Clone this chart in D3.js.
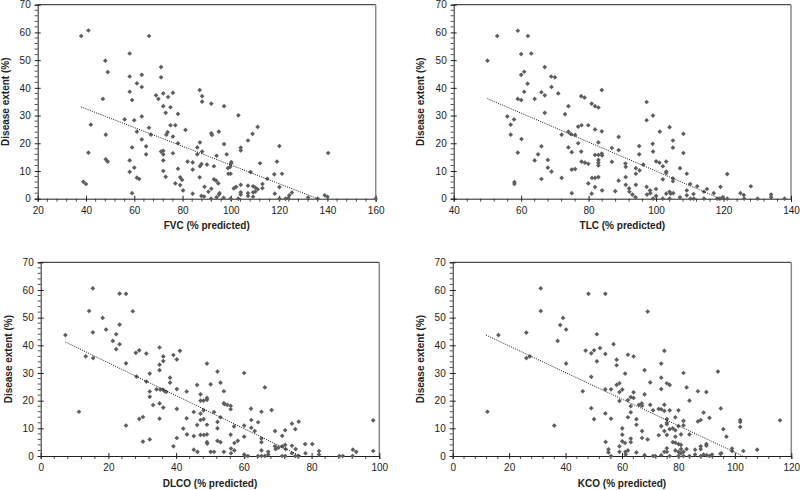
<!DOCTYPE html>
<html>
<head>
<meta charset="utf-8">
<script src="https://cdn.jsdelivr.net/npm/d3@7"></script>
<style>
  body { margin: 0; background: #fff; }
  svg { display: block; font-family: "Liberation Sans", Arial, sans-serif; }
</style>
</head>
<body>
<script>
const yTicks = [0, 10, 20, 30, 40, 50, 60, 70];

const fvcTicks = [20, 40, 60, 80, 100, 120, 140, 160];
const fvcPoints = [
  [38, 58.7], [41, 60.7], [38.9, 6.1], [40, 5.3], [41, 16.6], [42, 26.7], [48, 49.8], [49, 45.7],
  [47, 36], [48.2, 23.1], [48.2, 14.2], [49, 13.4], [56, 28.6], [58.1, 52.4], [58.1, 44.1], [58.1, 38.6],
  [59.1, 35.6], [58.1, 13.8], [58.1, 9.7], [59.1, 18.5], [60, 28.3], [60, 11.2], [59.1, 2], [61.1, 41.6],
  [61.1, 24.2], [61.1, 7.6], [62, 7.1], [63.1, 44.7], [63.1, 40.3], [63.1, 29.7], [63.1, 21.4], [64.9, 18.9],
  [64.9, 16], [66.1, 58.7], [66.1, 25.6], [66.9, 23.1], [69, 37.3], [70, 36], [71.1, 47.5], [71.1, 43.8],
  [72, 38], [72, 33.4], [71.1, 17], [72, 17.3], [72, 16], [72, 13.8], [72, 10], [73, 31],
  [73, 7.9], [73.3, 23.1], [73.8, 24], [74, 36.7], [75, 33], [75, 26.5], [76, 38.2], [76, 22.4],
  [76, 16.4], [77, 26.5], [77, 5.5], [78.1, 30.6], [78.1, 20], [78.1, 10.8], [79, 7.7], [79, 4.9],
  [79.8, 6.8], [80.2, 3], [81.2, 24.8], [82.1, 13.4], [84.2, 13.1], [84.2, 10.5], [84.2, 1.8], [86.1, 18.5],
  [86.1, 16], [87.1, 39.2], [87.2, 20.3], [87.2, 11.7], [87.8, 12.5], [87.1, 7.7], [88.1, 37], [88.1, 35],
  [88.1, 17], [87.8, 1], [89.1, 4.3], [88.9, 0.8], [90.1, 12.3], [90.7, 2.5], [91.9, 34.3], [91.9, 23.6],
  [92.2, 23], [91.9, 3.6], [91.8, 0], [93, 11.7], [93, 7], [93.9, 6.5], [94.1, 15.5], [95, 24.2],
  [94.8, 5.5], [95.1, 1.5], [94.1, 0.5], [95.3, 2], [97.2, 19.7], [97.2, 33.4], [97, 0.3], [98.3, 16],
  [98.8, 11], [99, 9], [100.1, 12.7], [100.2, 13.2], [99.7, 11.5], [99.9, 9], [99.9, 0], [101.2, 3.7],
  [102.2, 4.3], [103.1, 30.1], [104.1, 18.4], [104.1, 17.4], [104.1, 5], [104.1, 2.3], [104.1, 1.5], [103.1, 0],
  [107.1, 21], [107.1, 4.7], [107.1, 2], [107.1, 1], [108.2, 9.6], [109, 23.4], [109.2, 4.5], [109.2, 2.3],
  [109.2, 0.7], [110.1, 4], [110.1, 2.5], [111.1, 25.9], [111.1, 3.4], [112.1, 12.8], [113.1, 5.3], [113.1, 3.8],
  [115.1, 7.2], [118, 8.8], [118.2, 1.8], [119.1, 13.4], [120.1, 19], [120.1, 4.2], [120.1, 0], [121.2, 9],
  [122.7, 0], [123.8, 0.2], [124.2, 1.2], [125.3, 2.2], [132, 0.4], [136, 0], [138.9, 1.2], [140, 0.7],
  [140.3, 16.5], [160, 0]
];
const fvcTrend = [[38, 33.1], [136, 0]];

const tlcTicks = [40, 60, 80, 100, 120, 140];
const tlcPoints = [
  [50, 49.8], [52.9, 58.7], [55.9, 29.7], [56.9, 26.7], [56.9, 23.1], [57.9, 28.6], [58, 6], [58, 5.3],
  [59, 60.6], [59, 36], [59, 16.6], [60, 52.2], [60, 44.7], [60, 35.6], [60.1, 21.5], [60.9, 45.8],
  [60.9, 38.6], [62, 58.7], [61.9, 41.5], [63, 52.4], [64, 36], [64, 13.8], [65, 16], [66, 38.4],
  [66, 18.9], [66, 7.1], [67, 47.5], [67, 37.3], [67, 31], [67.9, 14], [67.9, 11.2], [68.9, 44.1],
  [69, 40.3], [69, 9.8], [70, 43.8], [71, 38], [72, 23.1], [72, 7.5], [73, 30.5], [74, 33.4],
  [74, 24.2], [74, 18.5], [74.8, 23.3], [75, 16.8], [75, 10.5], [75, 2], [76, 23], [76, 10.7],
  [76.9, 26], [76.9, 20], [77.8, 37], [77.9, 26.5], [77.8, 17], [77.9, 13.4], [78.8, 36.5], [78.9, 13],
  [79.9, 26.5], [79.9, 12.6], [79.9, 5.5], [80.9, 34.3], [80.9, 1.8], [81, 7.5], [81.9, 33.4], [81.9, 25],
  [81.9, 15.8], [81.9, 7.5], [81.9, 4.2], [82.9, 32.9], [82.9, 20.3], [82.9, 15.8], [82.9, 14], [82.9, 13],
  [82.9, 12], [82.9, 7.8], [83.9, 39.2], [83.9, 24.3], [83.9, 16.3], [84, 15.6], [84, 3], [86.9, 18.3],
  [86.9, 13.3], [87.9, 2.7], [88.9, 22.3], [88.9, 17.5], [88.9, 6.5], [90.9, 12.7], [91, 11.5], [91, 7.8],
  [91, 5], [92, 3.7], [92.1, 2.5], [93, 1.5], [93.9, 0.5], [94, 11], [94, 9], [94, 5],
  [95, 19], [95, 16], [95.1, 10.2], [96.2, 12.3], [97.2, 34.9], [97.2, 28.3], [97.2, 4.3], [97.3, 1.5],
  [98.2, 3], [98.3, 2], [99.1, 30], [99, 19.8], [99.1, 17], [99.1, 0], [100, 3.5], [100, 1],
  [100, 13.5], [101.1, 24.2], [101, 13], [102, 11.7], [102, 7], [102, 0], [103, 13.4], [103, 9.8],
  [103, 9.3], [103, 1.8], [104, 25.8], [104, 2.5], [104.3, 1.8], [104, 0], [105, 21], [105, 18.4],
  [105, 7.3], [105, 6.3], [105.1, 2], [107.1, 11], [107.1, 0.5], [108.1, 23.4], [108.1, 16.5], [109.1, 9],
  [109.1, 3], [109.1, 1.2], [110.1, 5.3], [110.2, 0], [111.1, 1.7], [111.2, 0], [112.2, 4.5], [114.2, 2.5],
  [114.2, 0], [115.1, 3.5], [117.1, 2], [118.1, 0], [119.1, 4.3], [118.9, 0], [119.7, 0.5], [121.1, 8.9],
  [121.1, 0], [125, 2], [126, 1.3], [126.1, 0], [128.1, 4.5], [130.1, 0], [134.1, 1.5], [134.1, 0.5],
  [138.1, 0]
];
const tlcTrend = [[50, 36.1], [119, 0]];

const dlcoTicks = [0, 20, 40, 60, 80, 100];
const dlcoPoints = [
  [7.3, 43.7], [11.3, 16], [13.3, 36], [14.3, 52.4], [15.4, 60.6], [15.4, 44.7], [15.5, 35.4], [18.3, 49.9],
  [19.3, 45.7], [21.3, 41.6], [22.3, 44], [22.3, 38.6], [23.3, 58.7], [23.3, 47.5], [23.3, 40.4], [25.2, 58.6],
  [25.2, 33.5], [25.2, 11], [27.2, 52.3], [28.1, 37.3], [28.3, 28.7], [29.1, 38.2], [29.1, 13.4], [30.2, 14.1],
  [30.2, 5.2], [31.2, 37], [31.2, 26.9], [32.2, 29.8], [32.2, 23.3], [32.2, 21.4], [32.2, 6], [33.2, 18.4],
  [34.2, 24.1], [35.1, 39.2], [35.1, 33], [35.1, 31], [35.1, 19], [35.1, 13.5], [35.3, 24], [36.2, 36],
  [36.2, 34.3], [36.1, 24], [36.6, 23.4], [36.2, 17.5], [37.1, 23.2], [38.2, 28.3], [38.2, 26.5], [39.2, 36.5],
  [39.2, 3.5], [40.2, 34.9], [40.2, 24.2], [40.2, 17], [40.2, 6.5], [41.1, 38], [42.1, 9.9], [43.1, 23.3],
  [43.1, 13.6], [43.2, 7.8], [45.2, 15.9], [45.2, 7.2], [45.2, 2.3], [46.2, 25.7], [46.2, 11.2], [46.3, 1.5],
  [47.2, 22.3], [47.2, 20], [47.2, 15.3], [47.2, 13], [47.2, 7.6], [48.1, 20], [48.1, 16.5], [48.1, 13.3],
  [48.2, 7.6], [49.1, 21], [49.1, 20.3], [49.1, 11.3], [49.1, 7.8], [49.1, 5], [49.2, 4.5], [49.1, 33.4],
  [50.2, 25.9], [50.2, 1.5], [51.2, 15.9], [51.2, 1.5], [52.2, 30.5], [52.2, 12.3], [52.2, 10], [52.2, 5.5],
  [53.1, 26.5], [53.1, 14], [53.1, 5], [54.1, 23.4], [54.1, 19.1], [54.3, 18.7], [54.1, 1.5], [55.1, 18.5],
  [56.1, 18.1], [56.1, 16.9], [56.1, 7.7], [56.2, 2.7], [56.2, 1], [57.1, 10.7], [57.2, 4.7], [57.2, 2],
  [58.2, 5.5], [60.1, 30], [60.1, 11], [60.1, 7], [60.1, 0.5], [60.4, 0], [61.2, 0], [62.1, 17.1],
  [62.2, 13], [62.2, 10.2], [63.2, 9], [64.2, 12.2], [64.2, 0], [65.2, 16], [65.2, 6.3], [65.2, 5],
  [65.2, 2], [65.2, 0], [66.2, 24.8], [66.2, 0], [67.2, 1.5], [67.2, 0.5], [68.2, 16.6], [69.2, 9],
  [69.2, 3.5], [69.4, 2.5], [70.2, 3], [71.3, 7.3], [71.3, 3.5], [71.3, 0], [72.2, 9.3], [72.2, 4],
  [72.3, 2.5], [72.2, 0], [74.2, 11.7], [74.2, 3.7], [74.2, 1], [75.2, 9.7], [75.3, 2.5], [75.2, 0],
  [76.2, 12.4], [76.2, 0], [78.1, 4.3], [78.2, 1], [80.2, 4.3], [82.2, 1.8], [82.2, 0.5], [88.2, 0],
  [89.2, 0], [92.2, 2.3], [92.1, 0], [93.2, 1.5], [98.2, 12.9], [98.2, 1.8]
];
const dlcoTrend = [[7.3, 41.2], [76.7, 0]];

const kcoTicks = [0, 20, 40, 60, 80, 100, 120];
const kcoPoints = [
  [12.3, 16], [16.2, 43.7], [26.1, 44.6], [26.1, 35.4], [27.3, 36], [31.2, 60.6], [31.2, 52.4], [36, 11],
  [37.2, 41.6], [38.1, 47.3], [39.1, 49.9], [40.2, 45.7], [40.2, 33.4], [46.1, 23.4], [47.1, 38.1], [48.1, 58.6],
  [49.1, 37.1], [49.1, 28.6], [49.1, 17.3], [50.1, 38.2], [50.1, 13.3], [51.1, 44], [51.1, 34.2], [52.2, 39],
  [54.1, 58.6], [54.1, 36.9], [54.1, 24.1], [54.1, 15.4], [54.2, 5.1], [55.2, 2.4], [55.2, 1.3], [56.1, 24.1],
  [56.1, 13.5], [56.1, 0], [57, 40.4], [58.1, 34.8], [58.1, 32.8], [58.1, 25.7], [59.1, 26.3], [59.1, 23.1],
  [59.1, 19.9], [59.1, 3.5], [59.1, 1.5], [60.1, 24], [60.1, 10], [60.1, 7.7], [60.1, 5.3], [61.1, 29.8],
  [61.1, 4.7], [61.2, 1.5], [61.3, 0.5], [62.1, 36.6], [62.1, 20.2], [62.1, 14], [62.1, 2], [63.1, 21.3],
  [63.1, 18], [63.1, 15.8], [63.1, 6.3], [63.1, 5], [64.1, 36], [64.1, 23], [64.1, 21], [65.1, 13.3],
  [65.1, 11.3], [65.1, 1.3], [66, 18.5], [67, 19], [67.1, 18.2], [67.1, 9], [67.1, 6.5], [68, 31],
  [68, 22.3], [68, 0.3], [69.1, 52.2], [69.1, 6], [70, 26.6], [70, 18.5], [71, 16.5], [71, 0],
  [71.8, 0], [73, 17], [73, 7.5], [73.9, 33.4], [73.9, 28.3], [73.9, 24.2], [73.9, 16.9], [73.9, 10.8],
  [73.9, 0.3], [75, 38], [75, 18.5], [75, 16.3], [75, 9], [75, 1.5], [75.9, 26.3], [75.9, 13.3],
  [75.9, 12], [75.9, 11.5], [75.9, 7.6], [75.9, 2.8], [75.9, 1.5], [76.9, 25.7], [76.9, 16.5], [76.9, 9.7],
  [76.9, 0], [78, 10], [78, 5], [78.9, 14], [78.9, 9.3], [78.9, 7], [78.9, 4.8], [78.9, 2],
  [80, 16.5], [80, 10.8], [80, 4.3], [80, 1.5], [80, 0], [80.9, 7.8], [80.9, 4], [80.9, 2.5],
  [80.9, 1], [81.8, 30], [81.8, 12.7], [81.8, 11.1], [81.8, 1.5], [81.8, 0], [82.9, 24.8], [82.9, 2.5],
  [83.9, 20], [83.9, 7.8], [83.9, 0], [85.9, 2.3], [85.9, 0.5], [86.9, 23.4], [86.9, 12.5], [87.9, 13],
  [87.9, 3.5], [87.9, 2.5], [87.9, 0], [88.9, 15.7], [88.9, 0.5], [89.9, 23.1], [89.9, 4.3], [89.9, 3.7],
  [90, 0.3], [91, 13.8], [91, 0], [91.9, 0.5], [94, 30.5], [94.9, 0.8], [95, 17.2], [95.2, 1],
  [95.9, 9.7], [97, 7], [99, 2.7], [99, 1.8], [101.9, 13], [101.9, 12.3], [101.9, 10.5], [103, 1.8],
  [107.9, 2.3], [116, 12.9]
];
const kcoTrend = [[11.8, 43.7], [102.8, 0]];

const panels = [
  { title: "FVC (% predicted)", ticks: fvcTicks, points: fvcPoints, trend: fvcTrend,
    left: 37.7, right: 375.7, top: 4.7, bottom: 198.7, ytitle: 5.5 },
  { title: "TLC (% predicted)", ticks: tlcTicks, points: tlcPoints, trend: tlcTrend,
    left: 453.7, right: 791, top: 4.7, bottom: 198.7, ytitle: 420.5 },
  { title: "DLCO (% predicted)", ticks: dlcoTicks, points: dlcoPoints, trend: dlcoTrend,
    left: 40.7, right: 379.3, top: 262.3, bottom: 456, ytitle: 8.3 },
  { title: "KCO (% predicted)", ticks: kcoTicks, points: kcoPoints, trend: kcoTrend,
    left: 452.7, right: 791.3, top: 262.3, bottom: 456, ytitle: 420.5 }
];

const axisColor = "#222",
  textColor = "#222",
  markColor = "#5e5e5e";

const svg = d3.select("body").append("svg")
  .attr("width", 800)
  .attr("height", 490);

panels.forEach((p) => {
  const ticks = p.ticks;
  const x = d3.scaleLinear()
    .domain([ticks[0], ticks[ticks.length - 1]])
    .range([p.left, p.right]);
  const y = d3.scaleLinear()
    .domain([0, 70])
    .range([p.bottom, p.top]);

  const g = svg.append("g");

  // box: top and right edges
  g.append("line")
    .attr("x1", p.left).attr("x2", p.right)
    .attr("y1", p.top).attr("y2", p.top)
    .attr("stroke", axisColor).attr("stroke-width", 1);
  g.append("line")
    .attr("x1", p.right).attr("x2", p.right)
    .attr("y1", p.top).attr("y2", p.bottom)
    .attr("stroke", "#8a8a8a").attr("stroke-width", 1.5);

  // minor ticks
  const step = ticks[1] - ticks[0];
  const xMinor = d3.range(ticks[0], ticks[ticks.length - 1], step / 5).filter((v, i) => i % 5);
  g.selectAll(".xminor").data(xMinor).join("line")
    .attr("x1", (d) => x(d)).attr("x2", (d) => x(d))
    .attr("y1", p.bottom).attr("y2", p.bottom + 3)
    .attr("stroke", axisColor).attr("stroke-width", 0.8);
  const yMinor = d3.range(0, 70, 2).filter((v) => v % 10);
  g.selectAll(".yminor").data(yMinor).join("line")
    .attr("x1", p.left - 3).attr("x2", p.left)
    .attr("y1", (d) => y(d)).attr("y2", (d) => y(d))
    .attr("stroke", axisColor).attr("stroke-width", 0.8);

  // x axis
  const xAxis = g.append("g")
    .attr("transform", `translate(0,${p.bottom})`)
    .call(d3.axisBottom(x).tickValues(ticks).tickSize(3).tickPadding(5));
  xAxis.select(".domain").attr("stroke", axisColor);
  xAxis.selectAll(".tick line").attr("y1", -3).attr("stroke", axisColor);
  xAxis.selectAll("text").attr("font-size", 10).attr("fill", textColor)
    .attr("font-family", '"Liberation Sans", Arial, sans-serif');

  // y axis
  const yAxis = g.append("g")
    .attr("transform", `translate(${p.left},0)`)
    .call(d3.axisLeft(y).tickValues(yTicks).tickSize(3).tickPadding(4));
  yAxis.select(".domain").attr("stroke", axisColor);
  yAxis.selectAll(".tick line").attr("x1", 3).attr("stroke", axisColor);
  yAxis.selectAll("text").attr("font-size", 10).attr("fill", textColor)
    .attr("font-family", '"Liberation Sans", Arial, sans-serif');

  // titles
  g.append("text")
    .attr("x", (p.left + p.right) / 2)
    .attr("y", p.bottom + 30.5)
    .attr("text-anchor", "middle")
    .attr("font-size", 10).attr("font-weight", "bold").attr("fill", textColor)
    .text(p.title);
  g.append("text")
    .attr("transform", `translate(${p.ytitle + 3.6},${(p.top + p.bottom) / 2}) rotate(-90)`)
    .attr("text-anchor", "middle")
    .attr("font-size", 10).attr("font-weight", "bold").attr("fill", textColor)
    .text("Disease extent (%)");

  // points
  g.selectAll(".pt").data(p.points).join("path")
    .attr("d", d3.symbol(d3.symbolSquare, 11))
    .attr("transform", (d) => `translate(${x(d[0])},${y(d[1])}) rotate(45)`)
    .attr("fill", markColor);

  // trend line
  g.append("line")
    .attr("x1", x(p.trend[0][0])).attr("y1", y(p.trend[0][1]))
    .attr("x2", x(p.trend[1][0])).attr("y2", y(p.trend[1][1]))
    .attr("stroke", "#111").attr("stroke-width", 1)
    .attr("stroke-dasharray", "1,1.3");
});
</script>
</body>
</html>
